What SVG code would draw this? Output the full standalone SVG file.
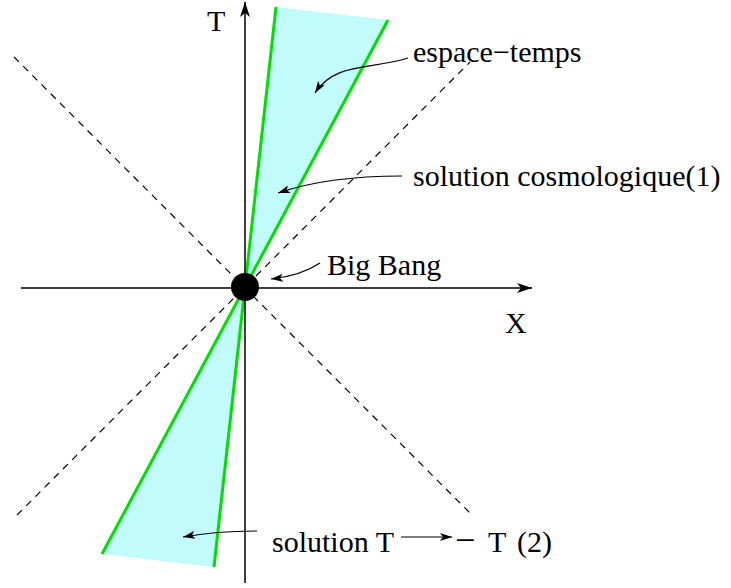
<svg xmlns="http://www.w3.org/2000/svg" width="731" height="588" viewBox="0 0 731 588">
<style>
.t{font-family:"Liberation Serif","Times New Roman",serif;font-size:30px;fill:#000}
.ax{stroke:#000;stroke-width:1.5;fill:none}
.dash{stroke:#000;stroke-width:1.2;stroke-dasharray:7 6;fill:none}
.cone{fill:#c1fbfb;stroke:none}
.green{stroke:#00e000;stroke-width:3;fill:none}
.ann{stroke:#000;stroke-width:1.2;fill:none;marker-end:url(#ah)}
</style>
<defs>
<marker id="ah" markerWidth="14" markerHeight="8" refX="12" refY="4" orient="auto" markerUnits="userSpaceOnUse">
<path d="M0,0 L12,4 L0,8 L3,4 Z" fill="#000"/>
</marker>
<marker id="axh" markerWidth="16" markerHeight="10" refX="15" refY="5" orient="auto" markerUnits="userSpaceOnUse">
<path d="M0,0 L15,5 L0,10 L4,5 Z" fill="#000"/>
</marker>
</defs>
<g id="cones">
<polygon class="cone" points="245,287 276,7 388,20"/>
<polygon class="cone" points="245,287 214,567 102,554"/>
<line class="green" x1="245" y1="287" x2="276" y2="7"/>
<line class="green" x1="245" y1="287" x2="388" y2="20"/>
<line class="green" x1="245" y1="287" x2="214" y2="567"/>
<line class="green" x1="245" y1="287" x2="102" y2="554"/>
</g>
<g id="axes">
<line class="ax" x1="245" y1="583" x2="245" y2="2" marker-end="url(#axh)"/>
<line class="ax" x1="21" y1="288" x2="532" y2="288" marker-end="url(#axh)"/>
</g>
<g id="lightcone">
<line class="dash" x1="14" y1="57" x2="472" y2="515"/>
<line class="dash" x1="17" y1="515" x2="470" y2="62"/>
</g>
<g id="bigbang">
<circle cx="245" cy="287" r="14" fill="#000"/>
</g>
<g id="connectors">
<path class="ann" d="M408,58 C370,70 335,62 315,93"/>
<path class="ann" d="M402,176 C350,176 310,182 278,193"/>
<path class="ann" d="M320,263 C305,273 290,277 271,279"/>
<path class="ann" d="M257,531 C230,531 205,533 183,537"/>
<path class="ann" d="M401,537 L452,537"/>
</g>
<g id="labels">
<text class="t" x="207" y="31">T</text>
<text class="t" x="505" y="333">X</text>
<text class="t" x="413" y="62">espace−temps</text>
<text class="t" x="413" y="186">solution cosmologique(1)</text>
<text class="t" x="327" y="275">Big Bang</text>
<text class="t" x="272" y="552">solution T</text>
<text class="t" y="552"><tspan x="455" font-size="36">−</tspan><tspan x="488">T</tspan><tspan x="517">(2)</tspan></text>
</g>
</svg>
